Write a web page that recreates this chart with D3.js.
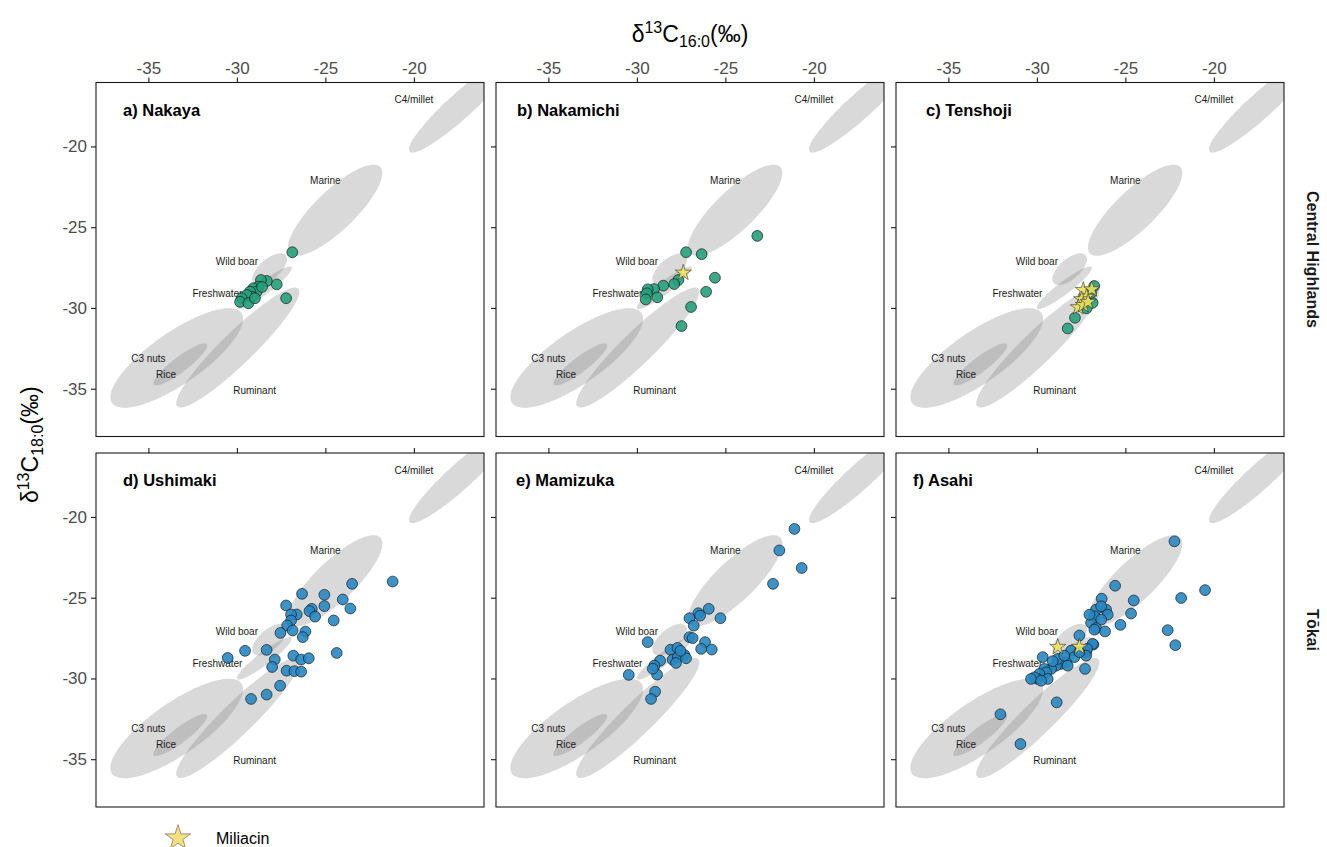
<!DOCTYPE html>
<html>
<head>
<meta charset="utf-8">
<script src="https://cdn.jsdelivr.net/npm/d3@7"></script>
<style>
  body { margin: 0; background: #fff; }
  svg { display: block; font-family: "Liberation Sans", Arial, sans-serif; }
</style>
</head>
<body>
<svg id="chart" width="1327" height="847"></svg>
<script>
// ---- axes -------------------------------------------------------------
const tickValues = [-35, -30, -25, -20];
const axisDomain = [-37.96, -16.04];

// ---- reference source ellipses (δ13C16:0 / δ13C18:0 centres, semi-axes, tilt in degrees)
const sourceNames = ["C4/millet", "Marine", "Wild boar", "Freshwater", "Ruminant", "C3 nuts", "Rice"];
const sourceCx    = [-17.4, -24.45, -28.15, -28.45, -29.95, -33.4, -33.2];
const sourceCy    = [-17.5, -23.95, -27.6, -28.75, -32.45, -33.1, -33.5];
const sourceA     = [4.0, 3.7, 1.25, 2.0, 5.0, 4.6, 1.95];
const sourceB     = [0.75, 1.18, 0.6, 0.38, 0.95, 1.55, 0.45];
const sourceTilt  = [45, 47, 45, 40, 47, 38, 40];

// ---- source label anchors
const labelNames = ["C4/millet", "Marine", "Wild boar", "Freshwater", "C3 nuts", "Rice", "Ruminant"];
const labelX     = [-20, -25, -30, -31.1, -35, -34, -29];
const labelY     = [-17.1, -22.1, -27.1, -29.1, -33.1, -34.1, -35.1];

// ---- sites and regions
const siteTitles = ["a) Nakaya", "b) Nakamichi", "c) Tenshoji", "d) Ushimaki", "e) Mamizuka", "f) Asahi"];
const regionNames = ["Central Highlands", "Tōkai"];

// ---- residue isotope values: [δ13C16:0, δ13C18:0]
const nakaya = [
  [-26.87, -26.55], [-27.22, -29.40], [-27.75, -28.54], [-28.31, -28.33], [-28.64, -28.27],
  [-28.79, -28.68], [-29.07, -28.78], [-28.88, -28.99], [-29.26, -28.99], [-29.16, -29.31],
  [-29.44, -29.20], [-29.73, -29.40], [-29.82, -29.62], [-29.35, -29.71], [-28.98, -29.40],
  [-28.58, -28.70]
];
const nakayaMiliacin = [];

const nakamichi = [
  [-23.20, -25.54], [-27.22, -26.55], [-26.34, -26.67], [-27.66, -28.27], [-27.89, -28.52],
  [-28.51, -28.62], [-29.03, -28.83], [-29.39, -28.85], [-29.44, -29.09], [-28.85, -29.34],
  [-29.50, -29.47], [-25.59, -28.13], [-26.09, -29.00], [-26.94, -29.94], [-27.48, -31.12]
];
const nakamichiMiliacin = [[-27.38, -27.82]];

const tenshoji = [
  [-26.76, -28.64], [-26.85, -29.68], [-27.19, -30.02], [-27.85, -30.61], [-28.26, -31.27],
  [-26.94, -29.08]
];
const tenshojiMiliacin = [
  [-27.38, -28.89], [-26.90, -28.85], [-27.19, -29.31], [-27.47, -29.47], [-27.66, -29.96],
  [-27.38, -29.82], [-27.11, -29.63]
];

const ushimaki = [
  [-21.20, -24.00], [-23.49, -24.14], [-26.32, -24.76], [-25.06, -24.82], [-24.02, -25.11],
  [-23.59, -25.67], [-27.22, -25.48], [-25.06, -25.52], [-25.77, -25.69], [-25.90, -25.83],
  [-25.58, -26.17], [-26.62, -26.04], [-26.94, -26.04], [-26.94, -26.41], [-24.53, -26.41],
  [-27.16, -26.72], [-26.85, -27.03], [-27.54, -27.18], [-26.13, -27.10], [-26.28, -27.44],
  [-28.32, -28.23], [-29.54, -28.29], [-30.52, -28.73], [-24.36, -28.42], [-26.81, -28.59],
  [-26.37, -28.83], [-25.94, -28.75], [-27.86, -28.83], [-28.01, -29.29], [-27.19, -29.52],
  [-26.75, -29.55], [-26.37, -29.58], [-27.56, -30.45], [-28.32, -31.00], [-29.20, -31.27]
];
const ushimakiMiliacin = [];

const mamizuka = [
  [-21.10, -20.74], [-21.95, -22.07], [-20.69, -23.16], [-22.31, -24.14], [-25.94, -25.69],
  [-25.28, -26.27], [-26.53, -25.96], [-26.43, -26.11], [-27.03, -26.27], [-26.79, -26.73],
  [-29.39, -27.75], [-27.03, -27.44], [-26.85, -27.50], [-26.15, -27.75], [-26.37, -28.17],
  [-25.77, -28.21], [-28.10, -28.22], [-27.71, -28.11], [-27.32, -28.54], [-27.98, -28.84],
  [-27.69, -28.69], [-27.79, -29.04], [-27.22, -28.75], [-27.54, -28.29], [-28.69, -28.90],
  [-29.01, -29.21], [-28.86, -29.76], [-30.46, -29.78], [-28.97, -30.82], [-29.20, -31.27],
  [-29.10, -29.40]
];
const mamizukaMiliacin = [];

const asahi = [
  [-22.23, -21.51], [-20.50, -24.53], [-21.85, -25.02], [-22.61, -27.01], [-22.18, -27.94],
  [-25.58, -24.26], [-24.53, -25.17], [-24.68, -25.98], [-25.28, -26.68], [-26.34, -25.06],
  [-26.09, -25.74], [-26.66, -25.74], [-26.37, -25.53], [-26.00, -26.05], [-26.75, -26.15],
  [-26.37, -26.36], [-26.94, -26.57], [-26.66, -26.88], [-26.15, -27.09], [-27.03, -26.05],
  [-26.75, -26.98], [-27.60, -27.34], [-26.81, -27.90], [-27.22, -28.37], [-27.28, -29.41],
  [-28.88, -31.48], [-32.06, -32.22], [-30.93, -34.06], [-26.85, -27.86], [-27.16, -28.17],
  [-27.22, -28.59], [-28.07, -28.28], [-27.88, -28.68], [-28.35, -29.00], [-28.63, -29.10],
  [-28.92, -29.21], [-29.20, -29.41], [-29.58, -29.41], [-29.67, -28.68], [-29.48, -29.62],
  [-29.86, -29.72], [-29.95, -30.03], [-30.14, -29.93], [-30.33, -30.03], [-29.39, -30.03],
  [-29.76, -30.14], [-28.82, -28.79], [-28.45, -28.59], [-27.60, -28.37], [-28.26, -29.21],
  [-29.11, -28.93]
];
const asahiMiliacin = [[-28.82, -28.05], [-27.60, -28.05]];

const siteResidues = [nakaya, nakamichi, tenshoji, ushimaki, mamizuka, asahi];
const siteMiliacin = [nakayaMiliacin, nakamichiMiliacin, tenshojiMiliacin,
                      ushimakiMiliacin, mamizukaMiliacin, asahiMiliacin];

// ---- layout and styling
const colLeft = [96, 496, 896];
const rowTop = [82.5, 453];
const panelW = 388, panelH = 354;
const regionFill = ["#23a07a", "#2787c2"];
const starFill = "#ece25a";
const titleOffset = [27, 21, 30, 27, 20, 17];

const svg = d3.select("#chart");
const x = d3.scaleLinear().domain(axisDomain).range([0, panelW]);
const y = d3.scaleLinear().domain(axisDomain).range([panelH, 0]);

// ellipse outline in data space, projected through the scales
function ellipsePath(i) {
  const th = sourceTilt[i] * Math.PI / 180;
  const pts = d3.range(0, 361, 3).map(deg => {
    const t = deg * Math.PI / 180;
    const ex = sourceA[i] * Math.cos(t), ey = sourceB[i] * Math.sin(t);
    return [x(sourceCx[i] + ex * Math.cos(th) - ey * Math.sin(th)),
            y(sourceCy[i] + ex * Math.sin(th) + ey * Math.cos(th))];
  });
  return d3.line()(pts) + "Z";
}

const star = d3.symbol().type(d3.symbolStar);

siteTitles.forEach((title, k) => {
  const row = Math.floor(k / 3), col = k % 3;
  const g = svg.append("g").attr("transform", `translate(${colLeft[col]},${rowTop[row]})`);

  const clipId = "clip" + k;
  g.append("clipPath").attr("id", clipId)
    .append("rect").attr("width", panelW).attr("height", panelH);

  const plot = g.append("g").attr("clip-path", `url(#${clipId})`);

  // source ellipses
  plot.selectAll("path.src").data(sourceNames).join("path")
    .attr("class", "src")
    .attr("d", (d, i) => ellipsePath(i))
    .attr("fill", "#808080")
    .attr("fill-opacity", 0.3);

  // source labels
  plot.selectAll("text.src").data(labelNames).join("text")
    .attr("class", "src")
    .attr("x", (d, i) => x(labelX[i]))
    .attr("y", (d, i) => y(labelY[i]))
    .attr("dy", "0.35em")
    .attr("text-anchor", "middle")
    .attr("font-size", 10)
    .attr("fill", "#1a1a1a")
    .text(d => d);

  // residues
  plot.selectAll("circle").data(siteResidues[k]).join("circle")
    .attr("cx", d => x(d[0]))
    .attr("cy", d => y(d[1]))
    .attr("r", 5.4)
    .attr("fill", regionFill[row])
    .attr("fill-opacity", 0.9)
    .attr("stroke", "#1a1a1a")
    .attr("stroke-width", 0.7);

  // residues with miliacin
  plot.selectAll("path.star").data(siteMiliacin[k]).join("path")
    .attr("class", "star")
    .attr("transform", d => `translate(${x(d[0])},${y(d[1])})`)
    .attr("d", star.size(80)())
    .attr("fill", starFill)
    .attr("fill-opacity", 0.9)
    .attr("stroke", "#333")
    .attr("stroke-width", 0.6);

  // panel title
  g.append("text")
    .attr("x", titleOffset[k]).attr("y", 33)
    .attr("font-size", 16.5).attr("font-weight", "bold")
    .attr("fill", "#000")
    .text(title);

  // frame
  g.append("rect").attr("width", panelW).attr("height", panelH)
    .attr("fill", "none").attr("stroke", "#1a1a1a").attr("stroke-width", 1.1);

  // top axis
  const ax = g.append("g").call(
    d3.axisTop(x).tickValues(tickValues).tickSize(5).tickPadding(4)
      .tickFormat(d => row === 0 ? String(d) : ""));
  ax.select(".domain").remove();
  ax.selectAll("line").attr("stroke", "#1a1a1a").attr("stroke-width", 1.1);
  ax.selectAll("text").attr("font-size", 17).attr("fill", "#4d4d4d")
    .attr("font-family", "Liberation Sans, Arial, sans-serif");

  // left axis
  const ay = g.append("g").call(
    d3.axisLeft(y).tickValues(tickValues).tickSize(5).tickPadding(4)
      .tickFormat(d => col === 0 ? String(d) : ""));
  ay.select(".domain").remove();
  ay.selectAll("line").attr("stroke", "#1a1a1a").attr("stroke-width", 1.1);
  ay.selectAll("text").attr("font-size", 17).attr("fill", "#4d4d4d")
    .attr("font-family", "Liberation Sans, Arial, sans-serif");
});

// row strips
regionNames.forEach((name, r) => {
  svg.append("text")
    .attr("transform", `translate(1313,${rowTop[r] + panelH / 2}) rotate(90)`)
    .attr("text-anchor", "middle")
    .attr("dy", "0.35em")
    .attr("font-size", 16).attr("font-weight", "bold")
    .attr("fill", "#1a1a1a")
    .text(name);
});

// axis titles
function isoTitle(sel, chain) {
  sel.append("tspan").text("δ");
  sel.append("tspan").attr("dy", -9).attr("font-size", 16).text("13");
  sel.append("tspan").attr("dy", 9).text("C");
  sel.append("tspan").attr("dy", 5).attr("font-size", 16).text(chain);
  sel.append("tspan").attr("dy", -5).text("(‰)");
}
svg.append("text")
  .attr("x", 690).attr("y", 42)
  .attr("text-anchor", "middle").attr("font-size", 23).attr("fill", "#000")
  .call(isoTitle, "16:0");
svg.append("text")
  .attr("transform", `translate(38,${(rowTop[0] + rowTop[1] + panelH) / 2}) rotate(-90)`)
  .attr("text-anchor", "middle").attr("font-size", 23).attr("fill", "#000")
  .call(isoTitle, "18:0");

// legend
const legend = svg.append("g").attr("transform", "translate(178,838)");
legend.append("path")
  .attr("d", d3.symbol().type(d3.symbolStar).size(200)())
  .attr("fill", "#f6df7c").attr("stroke", "#555").attr("stroke-width", 0.6);
legend.append("text")
  .attr("x", 38).attr("y", 6)
  .attr("font-size", 16).attr("fill", "#000")
  .text("Miliacin");
</script>
</body>
</html>
